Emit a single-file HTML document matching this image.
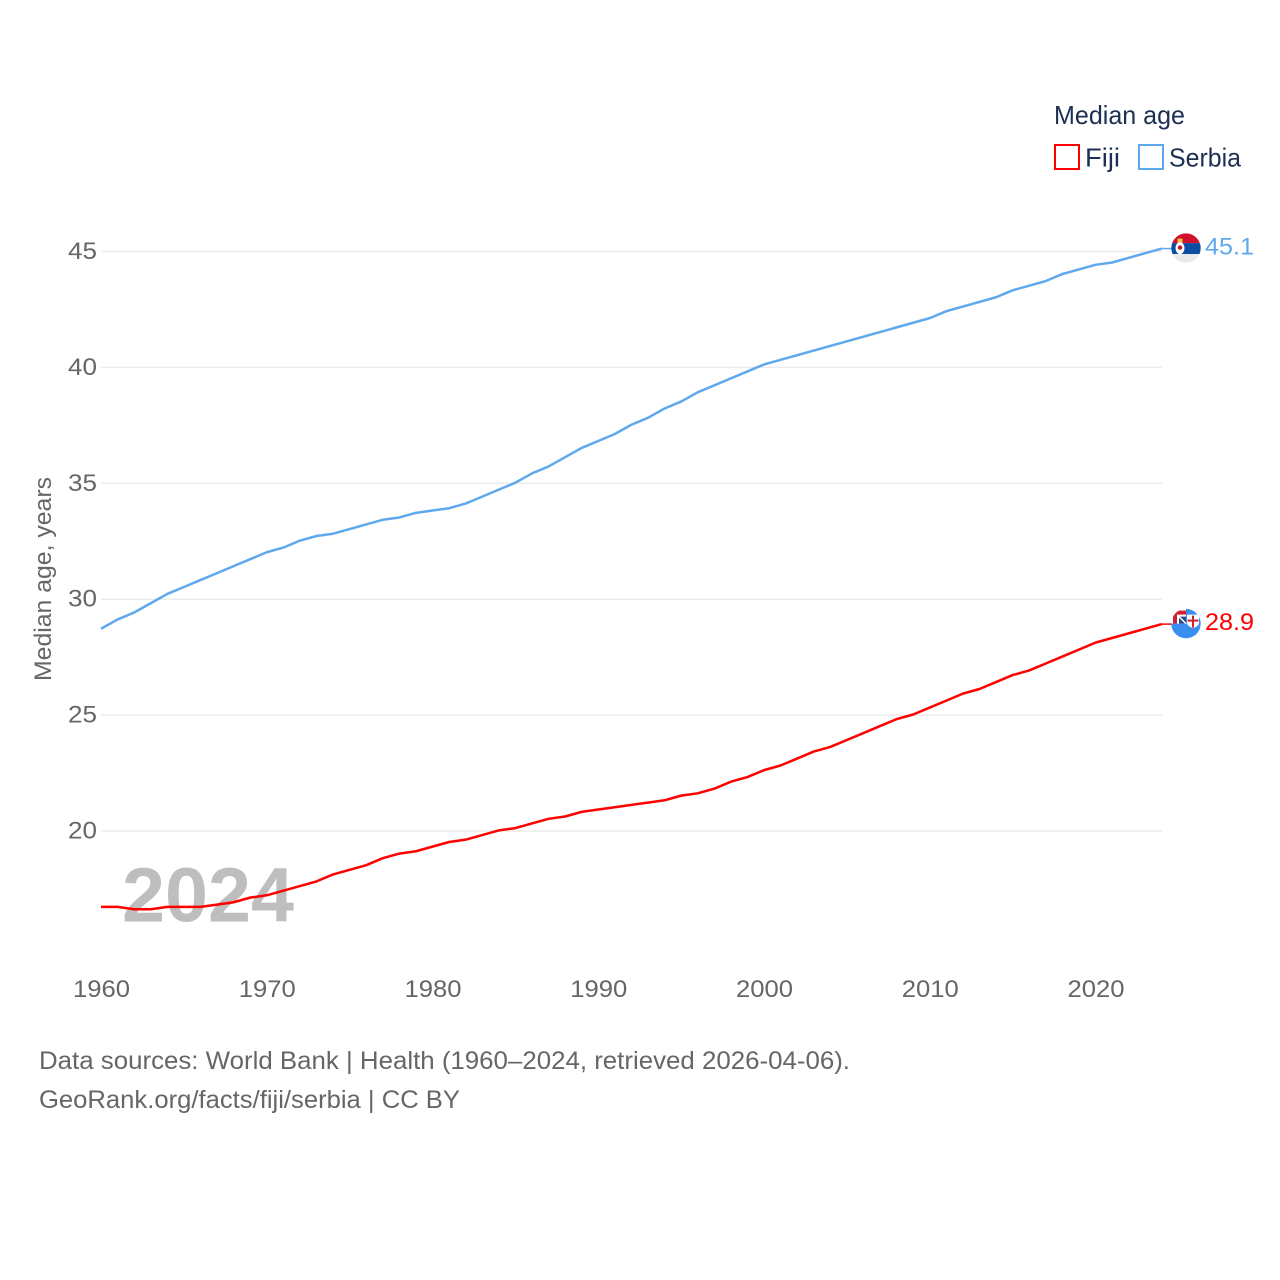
<!DOCTYPE html>
<html lang="en">
<head>
<meta charset="utf-8">
<title>Median age: Fiji and Serbia</title>
<style>
html,body{margin:0;padding:0;background:#fff;width:1280px;height:1280px;overflow:hidden}
svg{display:block}
text{font-family:"Liberation Sans",sans-serif}
</style>
</head>
<body>
<svg id="chart" width="1280" height="1280" viewBox="0 0 1280 1280" xmlns="http://www.w3.org/2000/svg">
  <text x="122" y="921.500" font-size="77" font-weight="700" fill="#bebebe" textLength="172" lengthAdjust="spacingAndGlyphs">2024</text>
  <g id="grid"></g>
  <g id="yticks"></g>
  <g id="xticks"></g>
  <text transform="translate(51,681) rotate(-90)" font-size="24" fill="#666" textLength="204" lengthAdjust="spacingAndGlyphs">Median age, years</text>
  <g id="series"></g>

  <g id="flag-serbia">
    <clipPath id="clip-serbia"><circle cx="0" cy="0" r="14.7"/></clipPath>
    <g clip-path="url(#clip-serbia)">
      <rect x="-15" y="-15" width="30" height="10" fill="#d0102c"/>
      <rect x="-15" y="-5" width="30" height="11" fill="#0c4da2"/>
      <rect x="-15" y="6" width="30" height="10" fill="#eaeaea"/>
      <rect x="-8.500" y="-9.500" width="5" height="4" fill="#f0c040"/>
      <ellipse cx="-6" cy="0" rx="4.500" ry="6" fill="#fff"/>
      <circle cx="-6" cy="-0.500" r="2.200" fill="#c8102e"/>
    </g>
  </g>
  <g id="flag-fiji">
    <clipPath id="clip-fiji"><circle cx="0" cy="0" r="14.7"/></clipPath>
    <g clip-path="url(#clip-fiji)">
      <rect x="-15" y="-15" width="30" height="30" fill="#3a8ef0"/>
      <rect x="-15" y="-15" width="15" height="15" fill="#fff"/>
      <rect x="-13" y="-13" width="13" height="4" fill="#d0202c"/>
      <rect x="-13" y="-13" width="4" height="13" fill="#d0202c"/>
      <rect x="-7" y="-7" width="7" height="7" fill="#2a4a8c"/>
      <path d="M-7 -7L0 0" stroke="#fff" stroke-width="1.500"/>
      <path d="M1 -9h12v8c0 3-3 4.500-6 5.500c-3-1-6-2.500-6-5.500z" fill="#fff"/>
      <rect x="6" y="-8" width="2" height="12" fill="#d0202c"/>
      <rect x="1.500" y="-4" width="11" height="2" fill="#d0202c"/>
    </g>
  </g>
  <g id="end-labels"></g>

  <g>
    <text x="1054" y="124" font-size="26" fill="#1d2f52" textLength="131" lengthAdjust="spacingAndGlyphs">Median age</text>
    <g>
      <rect x="1055" y="145" width="24" height="24" fill="none" stroke="#ff0000" stroke-width="2"/>
      <text x="1085" y="166.500" font-size="26" fill="#1d2f52" textLength="35" lengthAdjust="spacingAndGlyphs">Fiji</text>
    </g>
    <g>
      <rect x="1139" y="145" width="24" height="24" fill="none" stroke="#5fa8ee" stroke-width="2"/>
      <text x="1169" y="166.500" font-size="26" fill="#1d2f52" textLength="72" lengthAdjust="spacingAndGlyphs">Serbia</text>
    </g>
  </g>

  <g>
    <text x="39" y="1069" font-size="25" fill="#666" textLength="811" lengthAdjust="spacingAndGlyphs">Data sources: World Bank | Health (1960–2024, retrieved 2026-04-06).</text>
    <text x="39" y="1108" font-size="25" fill="#666" textLength="421" lengthAdjust="spacingAndGlyphs">GeoRank.org/facts/fiji/serbia | CC BY</text>
  </g>
</svg>
<script>
const startYear = 1960;
const serbiaValues = [28.7,29.1,29.4,29.8,30.2,30.5,30.8,31.1,31.4,31.7,32.0,32.2,32.5,32.7,32.8,33.0,33.2,33.4,33.5,33.7,33.8,33.9,34.1,34.4,34.7,35.0,35.4,35.7,36.1,36.5,36.8,37.1,37.5,37.8,38.2,38.5,38.9,39.2,39.5,39.8,40.1,40.3,40.5,40.7,40.9,41.1,41.3,41.5,41.7,41.9,42.1,42.4,42.6,42.8,43.0,43.3,43.5,43.7,44.0,44.2,44.4,44.5,44.7,44.9,45.1];
const fijiValues = [16.7,16.7,16.6,16.6,16.7,16.7,16.7,16.8,16.9,17.1,17.2,17.4,17.6,17.8,18.1,18.3,18.5,18.8,19.0,19.1,19.3,19.5,19.6,19.8,20.0,20.1,20.3,20.5,20.6,20.8,20.9,21.0,21.1,21.2,21.3,21.5,21.6,21.8,22.1,22.3,22.6,22.8,23.1,23.4,23.6,23.9,24.2,24.5,24.8,25.0,25.3,25.6,25.9,26.1,26.4,26.7,26.9,27.2,27.5,27.8,28.1,28.3,28.5,28.7,28.9];
const yTicks = [20,25,30,35,40,45];
const xTicks = [1960,1970,1980,1990,2000,2010,2020];

const NS = 'http://www.w3.org/2000/svg';
const xScale = function (year) { return 101 + (year - 1960) * 16.575; };
const yScale = function (value) { return 831 - (value - 20) * 23.18; };
const mk = function (tag, parent) {
  const el = document.createElementNS(NS, tag);
  parent.appendChild(el);
  return el;
};

const grid = document.getElementById('grid');
const yGroup = document.getElementById('yticks');
yTicks.forEach(function (t) {
  const line = mk('line', grid);
  
  
  line.setAttribute('x1', 101);
  line.setAttribute('x2', 1162);
  line.setAttribute('y1', yScale(t));
  line.setAttribute('y2', yScale(t));
  line.setAttribute('stroke', '#ebebeb');
  line.setAttribute('stroke-width', 1.5);
  const label = mk('text', yGroup);
  
  
  label.setAttribute('x', 68);
  label.setAttribute('y', yScale(t) + 7.5);
  label.setAttribute('font-size', 24);
  label.setAttribute('fill', '#666');
  label.setAttribute('textLength', 29);
  label.setAttribute('lengthAdjust', 'spacingAndGlyphs');
  label.textContent = t;
});

const xGroup = document.getElementById('xticks');
xTicks.forEach(function (t) {
  const label = mk('text', xGroup);
  
  
  label.setAttribute('x', xScale(t) - 28);
  label.setAttribute('y', 997);
  label.setAttribute('font-size', 24);
  label.setAttribute('fill', '#666');
  label.setAttribute('textLength', 57);
  label.setAttribute('lengthAdjust', 'spacingAndGlyphs');
  label.textContent = t;
});

const drawSeries = function (values, color, name) {
  const seriesGroup = document.getElementById('series');
  const d = values.map(function (v, i) {
    return (i ? 'L' : 'M') + xScale(startYear + i).toFixed(2) + ' ' + (yScale(v) - 0.6).toFixed(2);
  }).join('');
  const path = mk('path', seriesGroup);
  
  
  path.setAttribute('d', d);
  path.setAttribute('fill', 'none');
  path.setAttribute('stroke', color);
  path.setAttribute('stroke-width', 2.5);
  path.setAttribute('stroke-linejoin', 'round');
  const lastValue = values[values.length - 1];
  const lastX = xScale(startYear + values.length - 1);
  const lastY = yScale(lastValue) - 0.6;
  const connector = mk('line', seriesGroup);
  
  
  connector.setAttribute('x1', lastX);
  connector.setAttribute('x2', lastX + 10);
  connector.setAttribute('y1', lastY);
  connector.setAttribute('y2', lastY);
  connector.setAttribute('stroke', color);
  connector.setAttribute('stroke-width', 1.5);
  document.getElementById('flag-' + name).setAttribute('transform', 'translate(1186,' + (lastY - 0.5) + ')');
  const label = mk('text', document.getElementById('end-labels'));
  
  
  label.setAttribute('x', 1205);
  label.setAttribute('y', lastY + 6);
  label.setAttribute('font-size', 24);
  label.setAttribute('fill', color);
  label.setAttribute('textLength', 49);
  label.setAttribute('lengthAdjust', 'spacingAndGlyphs');
  label.textContent = lastValue.toFixed(1);
};
drawSeries(fijiValues, '#ff0000', 'fiji');
drawSeries(serbiaValues, '#5fa8ee', 'serbia');
</script>
</body>
</html>
